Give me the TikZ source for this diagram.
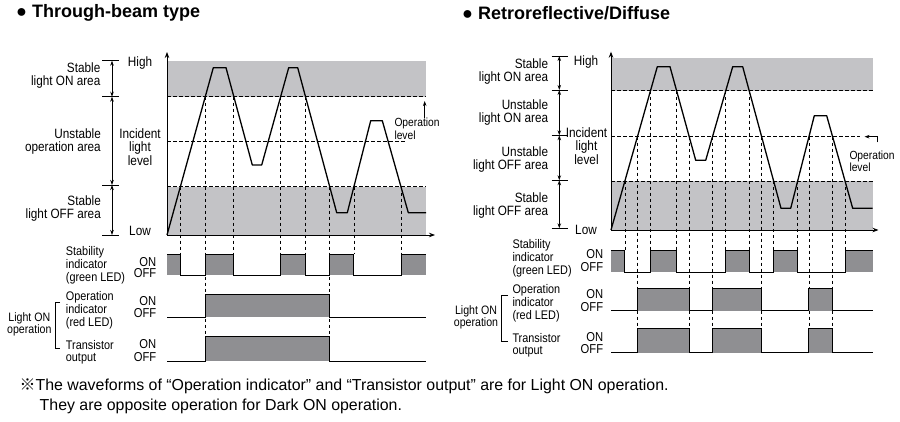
\documentclass[tikz,border=0pt]{standalone}
\usepackage{fontspec}
\setmainfont{Liberation Sans}
\newfontfamily\nf[FakeStretch=0.87]{Liberation Sans}
\newfontfamily\cjkfont{Noto Sans CJK JP}
\usetikzlibrary{arrows.meta}
\definecolor{bandgray}{RGB}{195,195,198}
\definecolor{sigfill}{RGB}{143,143,146}
\begin{document}
\begin{tikzpicture}[x=1pt,y=-1pt,
  dsh/.style={draw=black,line width=0.75pt,dash pattern=on 3.5pt off 2.5pt},
  wave/.style={line width=1.3pt,line join=round},
  sig/.style={line width=0.9pt},
  axis/.style={line width=0.9pt,-{Stealth[length=6pt,width=4.5pt]}},
  dim/.style={line width=0.8pt,{Stealth[length=5pt,width=3.5pt]}-{Stealth[length=5pt,width=3.5pt]}},
  tck/.style={line width=0.8pt},
  txt/.style={inner sep=0pt,font=\nf\fontsize{13.5}{12.8}\selectfont},
  inc/.style={inner sep=0pt,font=\nf\fontsize{13.6}{13.8}\selectfont,align=center},
  onoff/.style={inner sep=0pt,anchor=east,font=\nf\fontsize{12.9}{12.8}\selectfont},
  sml/.style={inner sep=0pt,font=\nf\fontsize{12.5}{12.8}\selectfont},
  lon/.style={inner sep=0pt,font=\nf\fontsize{12.2}{12.6}\selectfont,align=center},
  opl/.style={inner sep=0pt,font=\nf\fontsize{11.8}{12.6}\selectfont,align=left,anchor=west},
  ttl/.style={inner sep=0pt,anchor=west,font=\fontsize{18}{20}\selectfont\bfseries},
  note/.style={inner sep=0pt,anchor=west,font=\fontsize{15.9}{20}\selectfont}
]
\useasboundingbox (0,0) rectangle (900,422);

% ================= titles =================
\node[ttl] (t1) at (16,13) {● Through-beam type};
\node[ttl] (t2) at (462,13) {● Retroreflective/Diffuse};

% ================= LEFT PANEL =================
\fill[bandgray] (167,60.7) rectangle (426,96.7);
\fill[bandgray] (167,186.7) rectangle (426,235);
\draw[dsh] (167,96.7) -- (426,96.7);
\draw[dsh] (167,141.7) -- (405,141.7);
\draw[dsh] (167,186.7) -- (426,186.7);
\foreach \x/\a/\b in {180.4/186.7/254, 205.3/96.7/336.7, 233.8/96.7/254, 280.65/96.7/254,
  305.5/96.7/254, 329.7/186.7/336.7, 353.9/186.7/254, 400.95/186.7/254}
  \draw[dsh] (\x,\a) -- (\x,\b);
\draw[wave] (167,235) -- (213.3,67.7) -- (226,67.7) -- (252.3,165) -- (261.7,165) -- (288.7,67.7)
  -- (297.7,67.7) -- (336.7,212.7) -- (347.3,212.7) -- (370.7,120.7) -- (382.3,120.7)
  -- (408.3,212.7) -- (426,212.7);
\draw[axis] (167,235) -- (167,52);
\draw[axis] (167,235) -- (435,235);

% dimension arrows
\foreach \y in {60.7,96.7,185,235} \draw[tck] (102,\y) -- (119,\y);
\draw[dim] (112,60.7) -- (112,96.7);
\draw[dim] (112,96.7) -- (112,185);
\draw[dim] (112,185) -- (112,235);

\node[txt] (lhigh) at (140,62.7) {High};
\node[txt] (llow) at (140,230.7) {Low};
\node[inc] (linc) at (140,147) {Incident\\light\\level};
\node[txt,align=right,anchor=east] (lson) at (100.5,75.3) {Stable\\light ON area};
\node[txt,align=right,anchor=east] (luns) at (101,141.3) {Unstable\\operation area};
\node[txt,align=right,anchor=east] (lsoff) at (101,208.5) {Stable\\light OFF area};
\node[opl] (lopl) at (394.3,128.7) {Operation\\level};
\coordinate (lopa) at (424.7,118.5);
\coordinate (lopb) at (424.7,101);
\draw[line width=0.8pt,-{Stealth[length=5pt,width=3.5pt]}] (lopa) -- (lopb);

% timing rows
\foreach \a/\b in {167/180.4, 205.3/233.8, 280.65/305.5, 329.7/353.9, 400.95/426}
  \fill[sigfill] (\a,254) rectangle (\b,275.5);
\draw[sig] (167,254) -- (180.4,254) -- (180.4,275.5) -- (205.3,275.5) -- (205.3,254) -- (233.8,254)
  -- (233.8,275.5) -- (280.65,275.5) -- (280.65,254) -- (305.5,254) -- (305.5,275.5) -- (329.7,275.5)
  -- (329.7,254) -- (353.9,254) -- (353.9,275.5) -- (400.95,275.5) -- (400.95,254) -- (426,254);
\fill[sigfill] (205.3,294) rectangle (329.7,317.3);
\draw[sig] (167,317.3) -- (205.3,317.3) -- (205.3,294) -- (329.7,294) -- (329.7,317.3) -- (426,317.3);
\fill[sigfill] (205.3,336.7) rectangle (329.7,361);
\draw[sig] (167,361) -- (205.3,361) -- (205.3,336.7) -- (329.7,336.7) -- (329.7,361) -- (426,361);

\node[onoff] (lon1) at (156.5,261.7) {ON};
\node[onoff] (loff1) at (156.5,273.5) {OFF};
\node[onoff] (lon2) at (156.5,301) {ON};
\node[onoff] (loff2) at (156.5,313) {OFF};
\node[onoff] (lon3) at (156.5,344.3) {ON};
\node[onoff] (loff3) at (156.5,356.7) {OFF};
\node[sml,align=left,anchor=west] (lstab) at (65.7,265.3) {Stability\\indicator\\(green LED)};
\node[sml,align=left,anchor=west] (lopi) at (65.7,310.3) {Operation\\indicator\\(red LED)};
\node[sml,align=left,anchor=west] (ltr) at (65.7,352.2) {Transistor\\output};
\node[lon] (llon) at (29.3,324.5) {Light ON\\operation};
\draw[line width=0.8pt] (60,302.7) -- (55,302.7) -- (55,348.3) -- (60,348.3);

% ================= RIGHT PANEL =================
\fill[bandgray] (611,58.3) rectangle (872.7,90.7);
\fill[bandgray] (611,181) rectangle (872.7,230);
\draw[dsh] (611,90.7) -- (872.7,90.7);
\draw[dsh] (611,136.7) -- (860,136.7);
\draw[dsh] (611,181) -- (872.7,181);
\foreach \x/\a/\b in {624.9/181/250.7, 637.45/136.7/328.3, 650.5/90.7/250.7, 676.6/90.7/250.7,
  689.2/136.7/328.3, 712.5/136.7/328.3, 725.8/90.7/250.7, 749.2/90.7/250.7, 761.6/136.7/328.3,
  773.6/181/250.7, 797.7/181/250.7, 808.9/136.7/328.3, 832.6/136.7/328.3, 845/181/250.7}
  \draw[dsh] (\x,\a) -- (\x,\b);
\draw[wave] (611,230) -- (657.3,66.7) -- (670,66.7) -- (695.7,160.3) -- (705.7,160.3) -- (732.7,66.7)
  -- (742.7,66.7) -- (781,208.3) -- (790.7,208.3) -- (814.3,115.7) -- (826.7,115.7)
  -- (852.7,208.3) -- (872.7,208.3);
\draw[axis] (611,230) -- (611,51.7);
\draw[axis] (611,230) -- (878.5,230);

\foreach \y in {56,90,135.3,180.3,228.3} \draw[tck] (551.7,\y) -- (568.3,\y);
\draw[dim] (559.3,56) -- (559.3,90);
\draw[dim] (559.3,90) -- (559.3,135.3);
\draw[dim] (559.3,135.3) -- (559.3,180.3);
\draw[dim] (559.3,180.3) -- (559.3,228.3);

\node[txt] (rhigh) at (586,62) {High};
\node[txt] (rlow) at (586,230) {Low};
\node[inc] (rinc) at (586.5,146) {Incident\\light\\level};
\node[txt,align=right,anchor=east] (rson) at (548.3,71.8) {Stable\\light ON area};
\node[txt,align=right,anchor=east] (runon) at (548.3,112.5) {Unstable\\light ON area};
\node[txt,align=right,anchor=east] (runoff) at (548.3,159.3) {Unstable\\light OFF area};
\node[txt,align=right,anchor=east] (rsoff) at (548.3,205.5) {Stable\\light OFF area};
\node[opl] (ropl) at (849.3,161.3) {Operation\\level};
\coordinate (ropa) at (877.7,142.5);
\coordinate (ropb) at (877.7,136.7);
\coordinate (ropc) at (864.5,136.7);
\draw[line width=0.8pt,-{Stealth[length=5pt,width=3.5pt]}] (ropa) -- (ropb) -- (ropc);

\foreach \a/\b in {611/624.9, 650.5/676.6, 725.8/749.2, 773.6/797.7, 845/872.7}
  \fill[sigfill] (\a,250.7) rectangle (\b,272.3);
\draw[sig] (611,250.7) -- (624.9,250.7) -- (624.9,272.3) -- (650.5,272.3) -- (650.5,250.7) -- (676.6,250.7)
  -- (676.6,272.3) -- (725.8,272.3) -- (725.8,250.7) -- (749.2,250.7) -- (749.2,272.3) -- (773.6,272.3)
  -- (773.6,250.7) -- (797.7,250.7) -- (797.7,272.3) -- (845,272.3) -- (845,250.7) -- (872.7,250.7);
\foreach \a/\b in {637.45/689.2, 712.5/761.6, 808.9/832.6} {
  \fill[sigfill] (\a,288.3) rectangle (\b,310.7);
  \fill[sigfill] (\a,328.3) rectangle (\b,352.7);
}
\draw[sig] (611,310.7) -- (637.45,310.7) -- (637.45,288.3) -- (689.2,288.3) -- (689.2,310.7) -- (712.5,310.7)
  -- (712.5,288.3) -- (761.6,288.3) -- (761.6,310.7) -- (808.9,310.7) -- (808.9,288.3) -- (832.6,288.3)
  -- (832.6,310.7) -- (872.7,310.7);
\draw[sig] (611,352.7) -- (637.45,352.7) -- (637.45,328.3) -- (689.2,328.3) -- (689.2,352.7) -- (712.5,352.7)
  -- (712.5,328.3) -- (761.6,328.3) -- (761.6,352.7) -- (808.9,352.7) -- (808.9,328.3) -- (832.6,328.3)
  -- (832.6,352.7) -- (872.7,352.7);

\node[onoff] (ron1) at (603.3,254) {ON};
\node[onoff] (roff1) at (603.3,266.7) {OFF};
\node[onoff] (ron2) at (603.3,294) {ON};
\node[onoff] (roff2) at (603.3,306.7) {OFF};
\node[onoff] (ron3) at (603.3,337.3) {ON};
\node[onoff] (roff3) at (603.3,349.3) {OFF};
\node[sml,align=left,anchor=west] (rstab) at (512.3,258.3) {Stability\\indicator\\(green LED)};
\node[sml,align=left,anchor=west] (ropi) at (512.3,303.3) {Operation\\indicator\\(red LED)};
\node[sml,align=left,anchor=west] (rtr) at (512.3,345.3) {Transistor\\output};
\node[lon] (rlon) at (476,317.5) {Light ON\\operation};
\draw[line width=0.8pt] (508,295.7) -- (501.7,295.7) -- (501.7,341.7) -- (508,341.7);

% ================= footnote =================
\node[note] (n1) at (19.5,386.7) {{\cjkfont ※}The waveforms of “Operation indicator” and “Transistor output” are for Light ON operation.};
\node[note] (n2) at (39.5,406.7) {They are opposite operation for Dark ON operation.};
\end{tikzpicture}
\end{document}
